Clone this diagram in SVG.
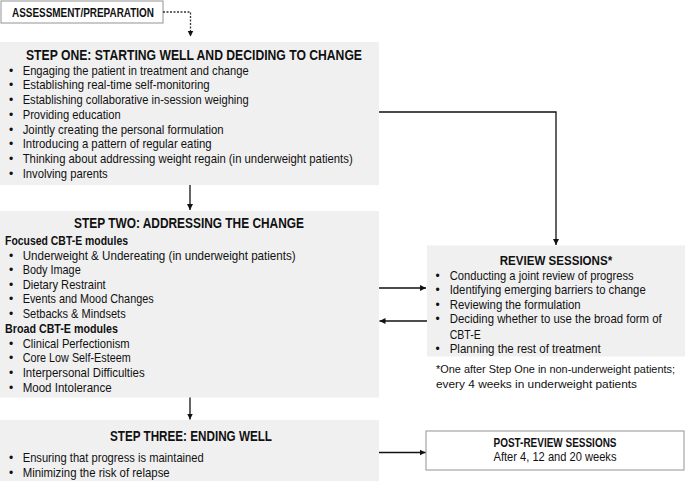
<svg xmlns="http://www.w3.org/2000/svg" width="685" height="481" viewBox="0 0 685 481">
<style>
text{font-family:"Liberation Sans",Arial,sans-serif;fill:#111;}
.t{font-size:14.5px;font-weight:bold;}
.h{font-size:12.5px;font-weight:bold;}
.b{font-size:12.8px;}
.d{font-size:12px;text-anchor:middle;}
.f{font-size:10.5px;}
.box{fill:#f0f0f0;}
.wbox{fill:#fff;stroke:#a6a6a6;stroke-width:1.2;}
.c{fill:none;stroke:#111;stroke-width:1.3;}
.dash{fill:none;stroke:#333;stroke-width:1.3;stroke-dasharray:2 1.5;}
</style>
<defs>
<marker id="ah" markerUnits="userSpaceOnUse" markerWidth="7" markerHeight="7" refX="6" refY="3" orient="auto">
<path d="M0,0 L6,3 L0,6 z" fill="#111"/>
</marker>
</defs>

<g id="assessment">
<rect class="wbox" x="1" y="1" width="162" height="22"/>
<text class="h" x="12" y="16.5" textLength="142" lengthAdjust="spacingAndGlyphs">ASSESSMENT/PREPARATION</text>
</g>

<g id="step-one">
<rect class="box" x="0" y="42" width="379" height="143"/>
<text class="t" x="26" y="60" textLength="336" lengthAdjust="spacingAndGlyphs">STEP ONE:  STARTING WELL AND DECIDING TO CHANGE</text>
<g class="b">
<text class="d" x="11" y="74.5">•</text><text x="22.7" y="74.5" textLength="226" lengthAdjust="spacingAndGlyphs">Engaging the patient in treatment and change</text>
<text class="d" x="11" y="89.2">•</text><text x="22.7" y="89.2" textLength="187" lengthAdjust="spacingAndGlyphs">Establishing real-time self-monitoring</text>
<text class="d" x="11" y="104">•</text><text x="22.7" y="104" textLength="226" lengthAdjust="spacingAndGlyphs">Establishing collaborative in-session weighing</text>
<text class="d" x="11" y="118.8">•</text><text x="22.7" y="118.8" textLength="98" lengthAdjust="spacingAndGlyphs">Providing education</text>
<text class="d" x="11" y="133.5">•</text><text x="22.7" y="133.5" textLength="201" lengthAdjust="spacingAndGlyphs">Jointly creating the personal formulation</text>
<text class="d" x="11" y="148.3">•</text><text x="22.7" y="148.3" textLength="189" lengthAdjust="spacingAndGlyphs">Introducing a pattern of regular eating</text>
<text class="d" x="11" y="163">•</text><text x="22.7" y="163" textLength="330" lengthAdjust="spacingAndGlyphs">Thinking about addressing weight regain (in underweight patients)</text>
<text class="d" x="11" y="177.8">•</text><text x="22.7" y="177.8" textLength="85" lengthAdjust="spacingAndGlyphs">Involving parents</text>
</g>
</g>

<g id="step-two">
<rect class="box" x="0" y="211" width="379" height="186.5"/>
<text class="t" x="74" y="228" textLength="230" lengthAdjust="spacingAndGlyphs">STEP TWO:  ADDRESSING THE CHANGE</text>
<text class="h" x="5" y="244.5" textLength="123" lengthAdjust="spacingAndGlyphs">Focused CBT-E modules</text>
<text class="d" x="11" y="259.5">•</text><text class="b" x="22.7" y="259.5" textLength="273" lengthAdjust="spacingAndGlyphs">Underweight  &amp; Undereating (in underweight patients)</text>
<text class="d" x="11" y="274">•</text><text class="b" x="22.7" y="274" textLength="58" lengthAdjust="spacingAndGlyphs">Body Image</text>
<text class="d" x="11" y="288.5">•</text><text class="b" x="22.7" y="288.5" textLength="83" lengthAdjust="spacingAndGlyphs">Dietary Restraint</text>
<text class="d" x="11" y="303">•</text><text class="b" x="22.7" y="303" textLength="131" lengthAdjust="spacingAndGlyphs">Events and Mood Changes</text>
<text class="d" x="11" y="317.5">•</text><text class="b" x="22.7" y="317.5" textLength="103" lengthAdjust="spacingAndGlyphs">Setbacks &amp; Mindsets</text>
<text class="h" x="5" y="332.5" textLength="113" lengthAdjust="spacingAndGlyphs">Broad CBT-E modules</text>
<text class="d" x="11" y="347.5">•</text><text class="b" x="22.7" y="347.5" textLength="107" lengthAdjust="spacingAndGlyphs">Clinical Perfectionism</text>
<text class="d" x="11" y="362">•</text><text class="b" x="22.7" y="362" textLength="108" lengthAdjust="spacingAndGlyphs">Core Low Self-Esteem</text>
<text class="d" x="11" y="377">•</text><text class="b" x="22.7" y="377" textLength="122" lengthAdjust="spacingAndGlyphs">Interpersonal Difficulties</text>
<text class="d" x="11" y="391.5">•</text><text class="b" x="22.7" y="391.5" textLength="89" lengthAdjust="spacingAndGlyphs">Mood Intolerance</text>
</g>

<g id="step-three">
<rect class="box" x="0" y="420" width="379" height="61"/>
<text class="t" x="110" y="441" textLength="162" lengthAdjust="spacingAndGlyphs">STEP THREE: ENDING WELL</text>
<text class="d" x="11" y="462">•</text><text class="b" x="22.7" y="462" textLength="181" lengthAdjust="spacingAndGlyphs">Ensuring that progress is maintained</text>
<text class="d" x="11" y="477">•</text><text class="b" x="22.7" y="477" textLength="147" lengthAdjust="spacingAndGlyphs">Minimizing the risk of relapse</text>
</g>

<g id="review-sessions">
<rect class="box" x="427" y="245.5" width="258" height="111"/>
<text class="t" x="499.7" y="265" textLength="112.5" lengthAdjust="spacingAndGlyphs" style="font-size:13.5px">REVIEW SESSIONS*</text>
<text class="d" x="437.5" y="279.5">•</text><text class="b" x="449.7" y="279.5" textLength="184" lengthAdjust="spacingAndGlyphs">Conducting a joint review of progress</text>
<text class="d" x="437.5" y="293.5">•</text><text class="b" x="449.7" y="293.5" textLength="196" lengthAdjust="spacingAndGlyphs">Identifying emerging barriers to change</text>
<text class="d" x="437.5" y="308.5">•</text><text class="b" x="449.7" y="308.5" textLength="131" lengthAdjust="spacingAndGlyphs">Reviewing the formulation</text>
<text class="d" x="437.5" y="323">•</text><text class="b" x="449.7" y="323" textLength="212" lengthAdjust="spacingAndGlyphs">Deciding whether to use the broad form of</text>
<text class="b" x="449.7" y="338.5" textLength="31" lengthAdjust="spacingAndGlyphs">CBT-E</text>
<text class="d" x="437.5" y="352.5">•</text><text class="b" x="449.7" y="352.5" textLength="151" lengthAdjust="spacingAndGlyphs">Planning the rest of treatment</text>
</g>

<g id="review-footnote">
<text class="f" x="436" y="372.5" textLength="239" lengthAdjust="spacingAndGlyphs">*One after Step One in non-underweight patients;</text>
<text class="f" x="436" y="387.5" textLength="201" lengthAdjust="spacingAndGlyphs">every 4 weeks in underweight patients</text>
</g>

<g id="post-review-sessions">
<rect class="wbox" x="426" y="431" width="258" height="39"/>
<text class="h" x="555" y="447" text-anchor="middle" textLength="123" lengthAdjust="spacingAndGlyphs" style="font-size:12px">POST-REVIEW SESSIONS</text>
<text class="b" x="555" y="461" text-anchor="middle" textLength="123" lengthAdjust="spacingAndGlyphs">After 4, 12 and 20 weeks</text>
</g>

<g id="connectors">
<path class="dash" d="M163,12 H190.5 V36.5" marker-end="url(#ah)"/>
<path class="c" d="M190,185 V210" marker-end="url(#ah)"/>
<path class="c" d="M379,112 H556 V245" marker-end="url(#ah)"/>
<path class="c" d="M379,288 H426" marker-end="url(#ah)"/>
<path class="c" d="M427,321 H379.5" marker-end="url(#ah)"/>
<path class="c" d="M190,397.5 V419.5" marker-end="url(#ah)"/>
<path class="c" d="M379,452.5 H425.5" marker-end="url(#ah)"/>
</g>
</svg>
